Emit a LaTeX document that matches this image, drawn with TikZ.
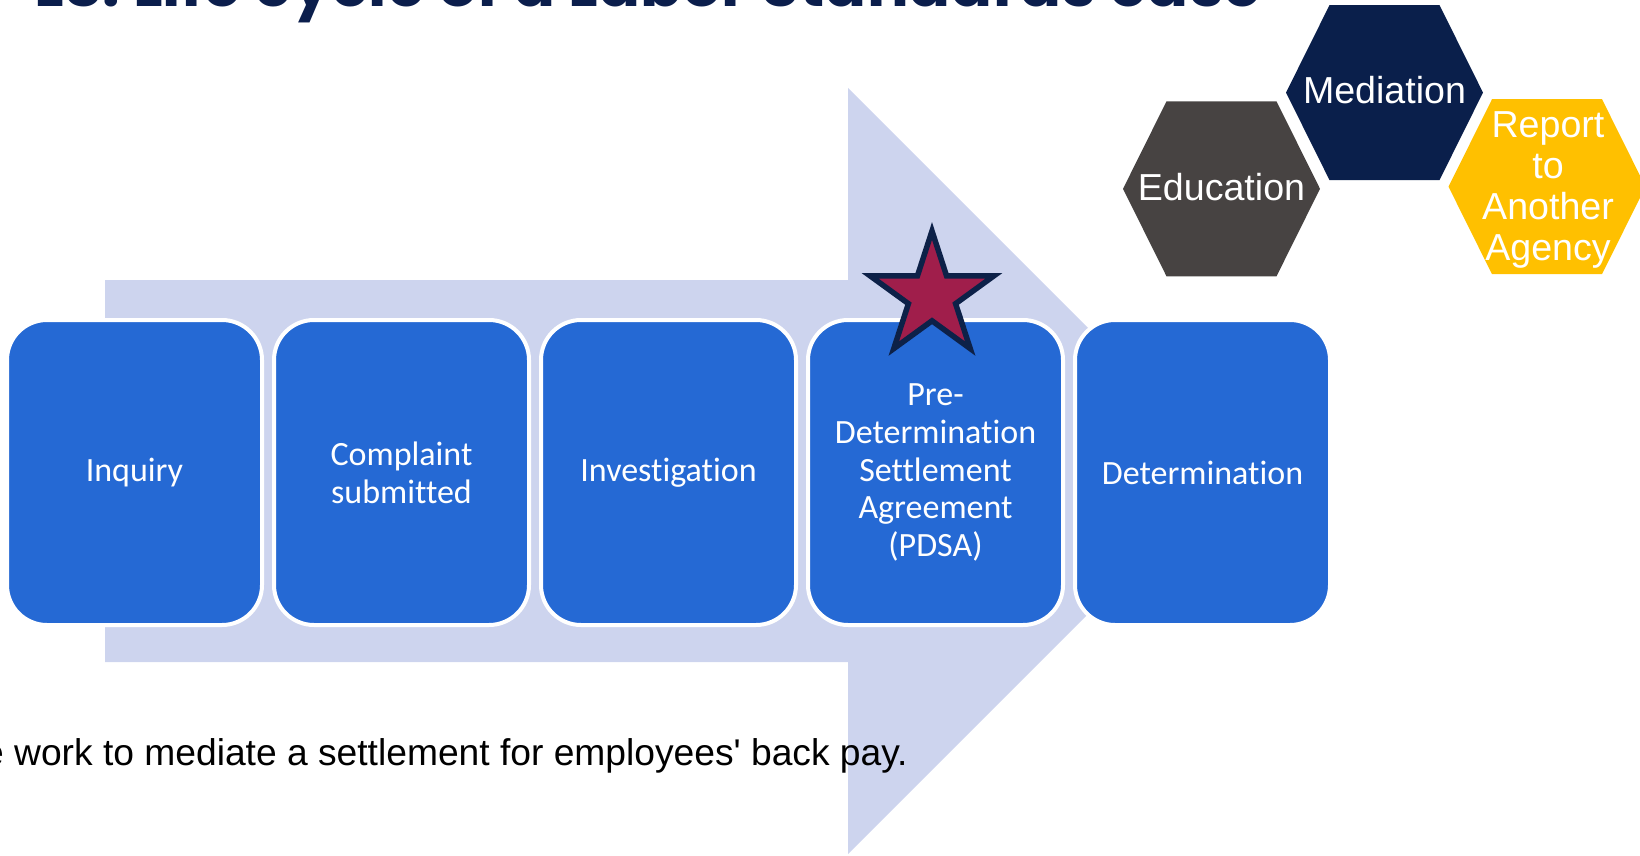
\documentclass[tikz,border=0pt]{standalone}
\usepackage{fontspec}
\setmainfont{Liberation Sans}
\newfontfamily\bodyfont{Liberation Sans}
\newfontfamily\boxfont{Carlito}[Ligatures=NoCommon]
\newfontfamily\titlefont{Poppins}
\definecolor{bandcol}{RGB}{205,212,238}
\definecolor{boxblue}{RGB}{37,105,212}
\definecolor{navyhex}{RGB}{10,31,75}
\definecolor{grayhex}{RGB}{71,67,66}
\definecolor{goldhex}{RGB}{255,192,0}
\definecolor{starfill}{RGB}{160,30,75}
\definecolor{starline}{RGB}{13,33,72}
\definecolor{titlecol}{RGB}{11,30,76}
\tikzset{
  stepbox/.style={rectangle, rounded corners=40pt, fill=boxblue, draw=white, line width=4pt,
    minimum width=255pt, minimum height=305pt, inner sep=0pt, text=white, align=center,
    font=\boxfont\fontsize{34}{37.7}\selectfont},
  hextext/.style={text=white, align=center, inner sep=0pt, font=\bodyfont\fontsize{37.6}{41}\selectfont},
  bodytext/.style={text=black, inner sep=0pt, font=\bodyfont\fontsize{37.2}{41}\selectfont},
  titletext/.style={text=titlecol, inner sep=0pt, font=\titlefont\bfseries\fontsize{62}{68}\selectfont},
  starstyle/.style={fill=starfill, draw=starline, line width=5.5pt, line join=miter}
}
\newcommand{\hexfill}[3]{%
  \fill[#3, shift={(#1,#2)}] (-98.5,0) -- (-55,-87.5) -- (55,-87.5) -- (98.5,0) -- (55,87.5) -- (-55,87.5) -- cycle;}
\begin{document}
\begin{tikzpicture}[x=1pt,y=-1pt]
\useasboundingbox (0,0) rectangle (1640,856);
\clip (0,0) rectangle (1640,856);
% background arrow
\fill[bandcol] (105,280) -- (848,280) -- (848,88) -- (1231,471) -- (848,854) -- (848,662) -- (105,662) -- cycle;
% title (cropped at top)
\node[titletext, anchor=base east] (title) at (1262,7) {LS: Life cycle of a Labor Standards case};
% steps
\node[stepbox] (inq) at (134.5,472.5) {Inquiry};
\node[stepbox] (comp) at (401.5,472.5) {Complaint\\submitted};
\node[stepbox] (inv) at (668.5,472.5) {Investigation};
\node[stepbox] (pdsa) at (935.5,472.5) {Pre-\\Determination\\Settlement\\Agreement\\(PDSA)};
\node[stepbox] (det) at (1202.5,472.5) {Determination};
% star
\coordinate (starc) at (932,296);
\draw[starstyle, shift={(starc)}] plot[samples at={0,...,9}] ({\x*36-90}:{ifthenelse(mod(\x,2)==0,65,24.8)}) -- cycle;
% hexagons
\hexfill{1221.5}{188.8}{grayhex}
\hexfill{1384.5}{92.6}{navyhex}
\hexfill{1547}{186.7}{goldhex}
\node[hextext] (edu) at (1221.5,187) {Education};
\node[hextext] (med) at (1384.5,90.5) {Mediation};
\node[hextext] (rep) at (1548,190) {Report\\to\\Another\\Agency};
% bottom text
\node[bodytext, anchor=base west] (note) at (-17,765) {e work to mediate a settlement for employees' back pay.};
\end{tikzpicture}
\end{document}
